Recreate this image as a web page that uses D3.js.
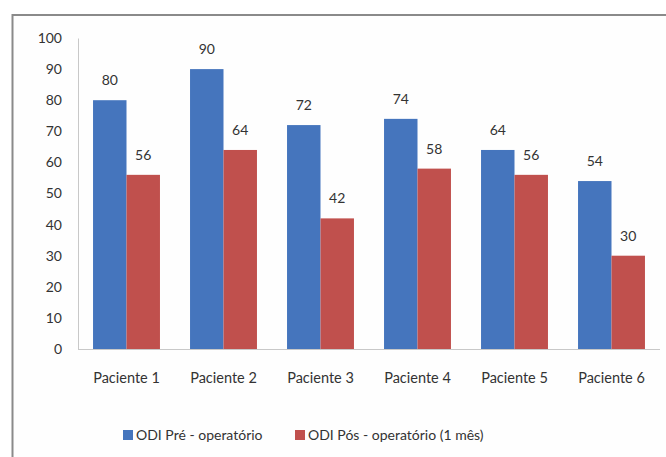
<!DOCTYPE html>
<html><head><meta charset="utf-8">
<script src="https://cdn.jsdelivr.net/npm/d3@7"></script>
<style>body{margin:0;background:#fff}svg{display:block}</style>
</head><body>
<svg id="c" width="666" height="457"></svg>
<script>
const categories = ["Paciente 1","Paciente 2","Paciente 3","Paciente 4","Paciente 5","Paciente 6"];
const seriesNames = ["ODI Pré - operatório","ODI Pós - operatório (1 mês)"];
const preValues = [80,90,72,74,64,54];
const posValues = [56,64,42,58,56,30];
const yTicks = [0,10,20,30,40,50,60,70,80,90,100];
const colors = ["#4575bd","#c0504d"];

const svg = d3.select("#c");
const font = "Lato, 'Open Sans', sans-serif";
// chart frame
svg.append("rect").attr("x",12.5).attr("y",15).attr("width",700).attr("height",500)
  .attr("fill","#fefefe").attr("stroke","#8a8a8a").attr("stroke-width",2);

const x0 = d3.scaleBand().domain(categories).range([78,660]).paddingInner(0.31).paddingOuter(0.155);
const x1 = d3.scaleBand().domain([0,1]).range([0,x0.bandwidth()]);
const y = d3.scaleLinear().domain([0,100]).range([349,38]);

const yAxis = svg.append("g").attr("transform","translate(78,0)")
  .call(d3.axisLeft(y).tickValues(yTicks).tickSize(0).tickPadding(16));
yAxis.select(".domain").attr("stroke","#c8c8c8");
yAxis.selectAll("text").attr("font-family",font).attr("font-size",14).attr("fill","#333");

const data = categories.map((c,i)=>({c, v:[preValues[i],posValues[i]]}));
const g = svg.append("g").selectAll("g").data(data).join("g")
  .attr("transform",d=>`translate(${x0(d.c)},0)`);
g.selectAll("rect").data(d=>d.v).join("rect")
  .attr("x",(d,i)=>x1(i)).attr("width",x1.bandwidth())
  .attr("y",d=>y(d)).attr("height",d=>y(0)-y(d))
  .attr("fill",(d,i)=>colors[i]);
g.selectAll("text").data(d=>d.v).join("text")
  .attr("x",(d,i)=>x1(i)+x1.bandwidth()/2).attr("y",d=>y(d)-15)
  .attr("text-anchor","middle").attr("font-family",font).attr("font-size",14).attr("fill","#333")
  .text(d=>d);

const xAxis = svg.append("g").attr("transform","translate(0,349)")
  .call(d3.axisBottom(x0).tickSize(0).tickPadding(24));
xAxis.select(".domain").attr("stroke","#c8c8c8").attr("d","M78,0.5H660");
xAxis.selectAll("text").attr("font-family",font).attr("font-size",14.5).attr("fill","#333");

const leg = svg.append("g");
const legX = [123,295];
seriesNames.forEach((n,i)=>{
  leg.append("rect").attr("x",legX[i]).attr("y",430).attr("width",10).attr("height",10).attr("fill",colors[i]);
  leg.append("text").attr("x",legX[i]+13).attr("y",440).attr("font-family",font).attr("font-size",14)
    .attr("fill","#333").text(n);
});
</script>
</body></html>
